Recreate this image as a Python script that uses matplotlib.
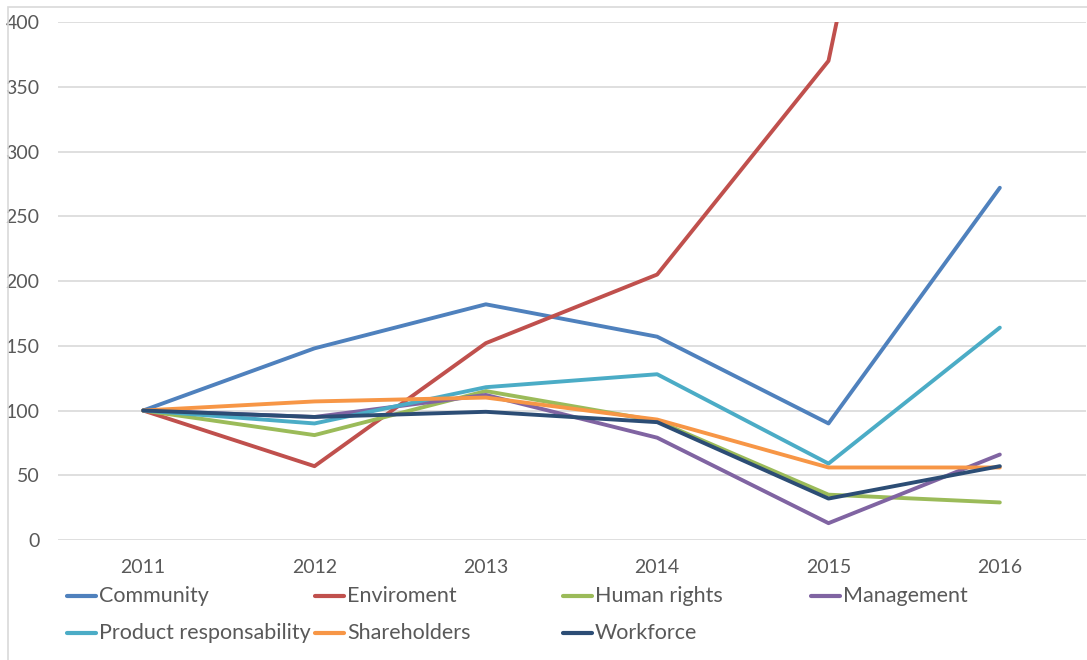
import matplotlib
matplotlib.use("Agg")
import matplotlib.pyplot as plt
from matplotlib.lines import Line2D
from matplotlib.patches import Rectangle

years = ["2011", "2012", "2013", "2014", "2015", "2016"]
community = [100, 148, 182, 157, 90, 272]
enviroment = [100, 57, 152, 205, 370, 1000]
human_rights = [100, 81, 115, 92, 35, 29]
management = [100, 95, 112, 79, 13, 66]
product_resp = [100, 90, 118, 128, 59, 164]
shareholders = [100, 107, 110, 93, 56, 56]
workforce = [100, 95, 99, 91, 32, 57]

series_names = ["Community", "Enviroment", "Human rights", "Management",
                "Product responsability", "Shareholders", "Workforce"]
series_values = [community, enviroment, human_rights, management,
                 product_resp, shareholders, workforce]
colors = ["#4F81BD", "#C0504D", "#9BBB59", "#8064A2",
          "#4BACC6", "#F79646", "#2C4D75"]

W, H = 1087, 660
plt.rcParams["font.family"] = ["Lato", "DejaVu Sans"]
fig = plt.figure(figsize=(W / 100, H / 100), dpi=100)

# Chart-area border
fig.patches.append(Rectangle((8 / W, -0.05), 1.2, 1 - 7 / H + 0.05,
                             transform=fig.transFigure, fill=False,
                             edgecolor="#D9D9D9", lw=1.2))

ax = fig.add_axes([57.5 / W, 1 - 540 / H, (1085.5 - 57.5) / W, (540 - 22) / H])
x = list(range(len(years)))
for vals, c in zip(series_values, colors):
    ax.plot(x, vals, color=c, lw=2.8, solid_capstyle="round",
            solid_joinstyle="round")

ax.set_xlim(-0.5, len(years) - 0.5)
ax.set_ylim(0, 400)
ax.set_yticks(range(0, 401, 50))
ax.set_xticks(x)
ax.set_xticklabels(years)
ax.grid(axis="y", color="#D9D9D9", lw=1.2)
ax.set_axisbelow(True)
for s in ax.spines.values():
    s.set_visible(False)
ax.tick_params(axis="both", length=0, colors="#595959", labelsize=14)
ax.tick_params(axis="y", pad=13)
ax.tick_params(axis="x", pad=14)

# Legend laid out in a fixed four-column grid below the plot
for i, (name, c) in enumerate(zip(series_names, colors)):
    col, row = i % 4, i // 4
    px = 67 + col * 248
    py = 596 + row * 37
    fig.add_artist(Line2D([px / W, (px + 29) / W], [1 - py / H, 1 - py / H],
                          transform=fig.transFigure, color=c, lw=3,
                          solid_capstyle="round"))
    fig.text((px + 32) / W, 1 - py / H, name, color="#595959",
             fontsize=15.5, va="center", ha="left")

fig.savefig("out.png", dpi=100)
